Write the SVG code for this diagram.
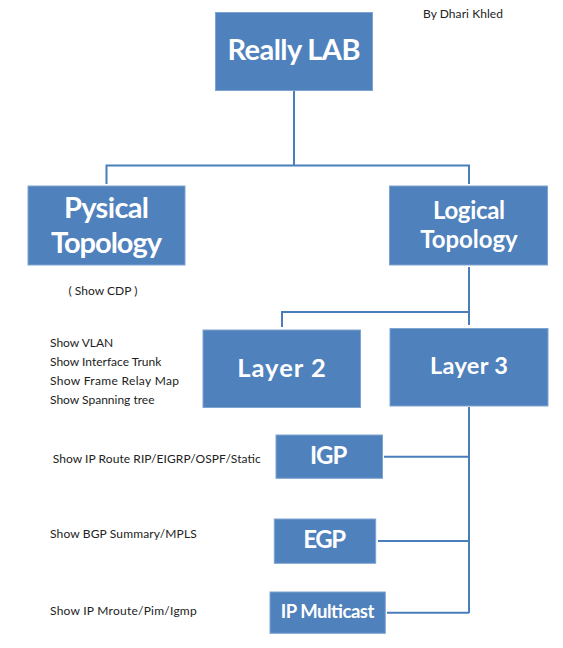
<svg xmlns="http://www.w3.org/2000/svg" width="563" height="648" viewBox="0 0 563 648">
<style>
.box{fill:#4F81BD;stroke:#7FA3D0;stroke-width:1}
.t{font-family:Lato,"Liberation Sans",sans-serif;font-weight:bold;fill:#fff;text-anchor:middle}
.l{font-family:Lato,"Liberation Sans",sans-serif;fill:#222;font-size:12px}
.c{fill:none;stroke:#4A7EBB;stroke-width:2}
</style>
<rect width="563" height="648" fill="#fff"/>
<g id="connectors">
<path class="c" d="M294 91V165.5M106.5 184V165.5H469V184"/>
<path class="c" d="M469 267V325M282 327V312H469"/>
<path class="c" d="M469 407V613M384 456.7H469M378 541H469M387 612.7H469"/>
</g>
<g id="really-lab"><rect class="box" x="215.5" y="12.5" width="157" height="78"/><text class="t" x="294" y="60" font-size="29" textLength="133">Really LAB</text></g>
<g id="author"><text class="l" x="423" y="18" font-size="11.5" textLength="80">By Dhari Khled</text></g>
<g id="pysical"><rect class="box" x="28" y="186" width="157" height="79"/><text class="t" x="106.5" y="217.5" font-size="29" textLength="85">Pysical</text><text class="t" x="106.5" y="252.5" font-size="29" textLength="111">Topology</text></g>
<g id="show-cdp"><text class="l" x="68.5" y="295" textLength="69">( Show CDP )</text></g>
<g id="logical"><rect class="box" x="389.5" y="186" width="158" height="79"/><text class="t" x="469" y="219" font-size="24" textLength="72">Logical</text><text class="t" x="469" y="247.5" font-size="24" textLength="97.5">Topology</text></g>
<g id="layer2"><rect class="box" x="203" y="330" width="157.5" height="77.5"/><text class="t" x="281.5" y="377.3" font-size="25.5" textLength="88.7">Layer 2</text></g>
<g id="layer3"><rect class="box" x="390" y="328.5" width="158" height="77.5"/><text class="t" x="469" y="374" font-size="23.5" textLength="78">Layer 3</text></g>
<g id="layer2-notes">
<text class="l" x="50" y="347.3">Show VLAN</text>
<text class="l" x="50" y="366">Show Interface Trunk</text>
<text class="l" x="50" y="385" textLength="129">Show Frame Relay Map</text>
<text class="l" x="50" y="404">Show Spanning tree</text>
</g>
<g id="igp"><rect class="box" x="276" y="435" width="106.5" height="43.3"/><text class="t" x="328.7" y="464" font-size="24" textLength="37.3">IGP</text></g>
<g id="igp-note"><text class="l" x="52.7" y="462.7" textLength="208">Show IP Route RIP/EIGRP/OSPF/Static</text></g>
<g id="egp"><rect class="box" x="274.3" y="519" width="101.4" height="44.3"/><text class="t" x="324.7" y="548.3" font-size="24" textLength="42.7">EGP</text></g>
<g id="egp-note"><text class="l" x="50" y="538.3" textLength="146.7">Show BGP Summary/MPLS</text></g>
<g id="ip-multicast"><rect class="box" x="270" y="592" width="115.3" height="41.3"/><text class="t" x="327.5" y="618.3" font-size="18.5" textLength="93.7">IP Multicast</text></g>
<g id="multicast-note"><text class="l" x="50" y="615" textLength="146.7">Show IP Mroute/Pim/Igmp</text></g>
</svg>
